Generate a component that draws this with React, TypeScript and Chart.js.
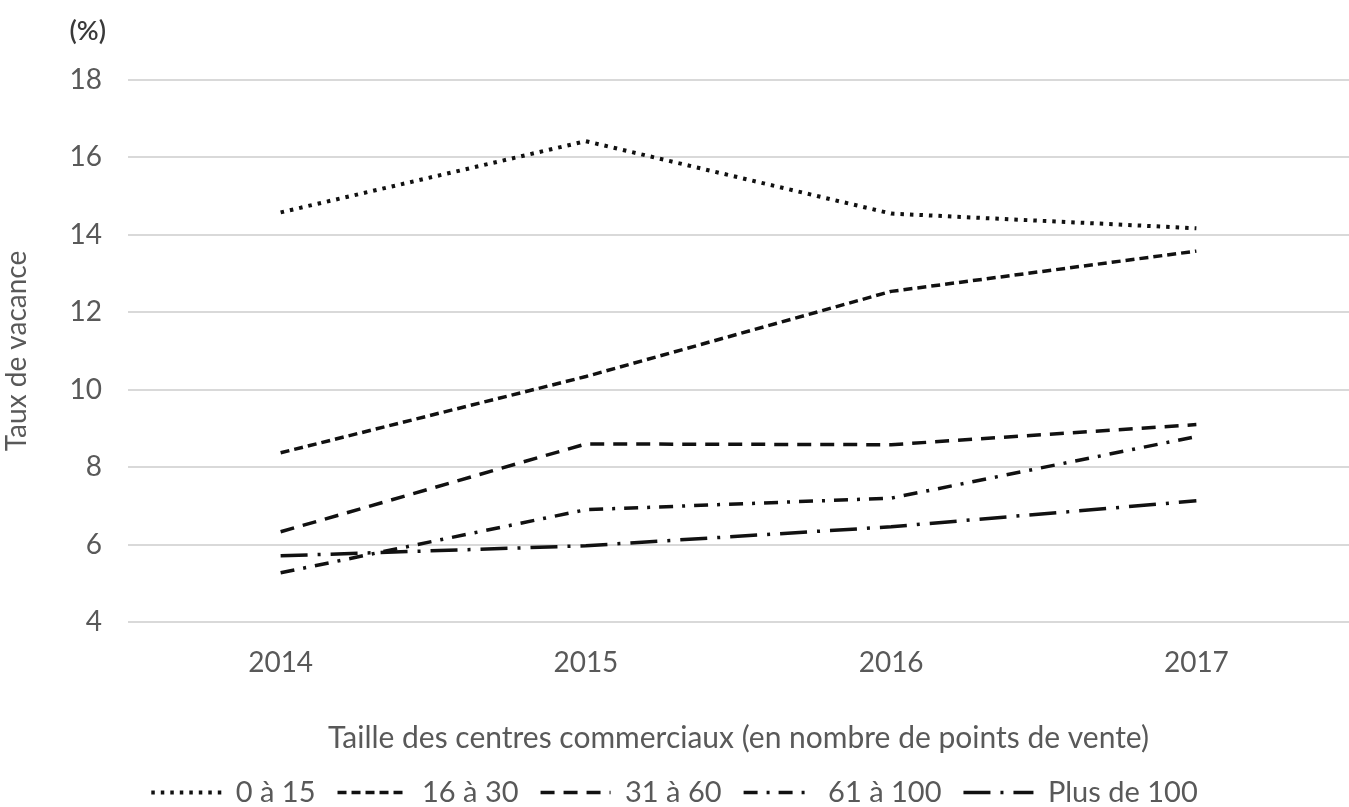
import React, { useEffect, useRef } from 'react';
import { Chart, registerables } from 'chart.js';

Chart.register(...registerables);

const years = ['2014', '2015', '2016', '2017'];
const seriesNames = ['0 à 15', '16 à 30', '31 à 60', '61 à 100', 'Plus de 100'];
const taille0a15 = [14.58, 16.42, 14.55, 14.17];
const taille16a30 = [8.37, 10.34, 12.54, 13.58];
const taille31a60 = [6.33, 8.6, 8.58, 9.1];
const taille61a100 = [5.27, 6.9, 7.2, 8.79];
const taillePlus100 = [5.71, 5.97, 6.46, 7.13];
const yMin = 4;
const yMax = 18;
const yStep = 2;
const yUnit = '(%)';
const yTitle = 'Taux de vacance';
const xTitle = 'Taille des centres commerciaux (en nombre de points de vente)';

const FONT = 'Lato';
const TEXT = '#595959';
const LINE = '#111111';

const dashes = [[3.5, 6], [9, 5], [14, 9], [14, 9, 3, 9], [27, 10, 3, 10]];
const widths = [4, 3.5, 3.5, 3.5, 3.5];

export default function App() {
  const ref = useRef<HTMLCanvasElement | null>(null);

  useEffect(() => {
    if (!ref.current) return;
    const values = [taille0a15, taille16a30, taille31a60, taille61a100, taillePlus100];
    const unitPlugin = {
      id: 'unitLabel',
      afterDraw(chart: any) {
        const ctx = chart.ctx;
        const ys = chart.scales.y;
        ctx.save();
        ctx.font = `600 27px ${FONT}`;
        ctx.fillStyle = '#3a3a3a';
        ctx.textAlign = 'right';
        ctx.textBaseline = 'middle';
        ctx.fillText(yUnit, ys.right - 22, 31);
        ctx.restore();
      },
    };
    const chart = new Chart(ref.current, {
      type: 'line',
      data: {
        labels: years,
        datasets: values.map((v, i) => ({
          label: seriesNames[i],
          data: v,
          borderColor: LINE,
          backgroundColor: 'rgba(0,0,0,0)',
          borderWidth: widths[i],
          borderDash: dashes[i],
          pointRadius: 0,
          pointHoverRadius: 0,
          tension: 0,
          fill: false,
        })),
      },
      options: {
        animation: false,
        responsive: true,
        maintainAspectRatio: false,
        layout: { padding: { top: 80, left: 0, right: 0, bottom: -10 } },
        plugins: {
          tooltip: { enabled: false },
          legend: {
            position: 'bottom',
            labels: {
              usePointStyle: true,
              pointStyleWidth: 70,
              color: TEXT,
              font: { family: FONT, size: 29 },
              padding: 22,
              generateLabels(chart: any) {
                const items = Chart.defaults.plugins.legend.labels.generateLabels(chart);
                items.forEach((it: any, i: number) => {
                  it.pointStyle = 'line';
                  it.lineDash = dashes[i];
                  it.lineWidth = widths[i];
                  it.strokeStyle = LINE;
                  it.fillStyle = 'rgba(0,0,0,0)';
                  it.lineCap = 'butt';
                  it.rotation = 0;
                });
                return items;
              },
            },
          },
        },
        scales: {
          x: {
            offset: true,
            grid: { display: false, drawTicks: false },
            border: { display: false },
            ticks: { color: TEXT, font: { family: FONT, size: 28 }, padding: 24 },
            title: {
              display: true,
              text: xTitle,
              color: TEXT,
              font: { family: FONT, size: 30 },
              padding: { top: 0, bottom: 0 },
            },
            afterFit(scale: any) {
              scale.height = 134;
            },
          },
          y: {
            min: yMin,
            max: yMax,
            ticks: { stepSize: yStep, color: TEXT, font: { family: FONT, size: 28 }, padding: 26 },
            grid: { color: '#d9d9d9', lineWidth: 2, drawTicks: false },
            border: { display: false },
            title: {
              display: true,
              text: yTitle,
              color: TEXT,
              font: { family: FONT, size: 28 },
              padding: { top: 0, bottom: 0 },
            },
            afterFit(scale: any) {
              scale.width = 128;
            },
          },
        },
      },
      plugins: [unitPlugin],
    });
    return () => chart.destroy();
  }, []);

  return (
    <div style={{ position: 'fixed', left: 0, top: 0, width: 1349, height: 807, background: '#fff' }}>
      <canvas ref={ref} />
    </div>
  );
}
